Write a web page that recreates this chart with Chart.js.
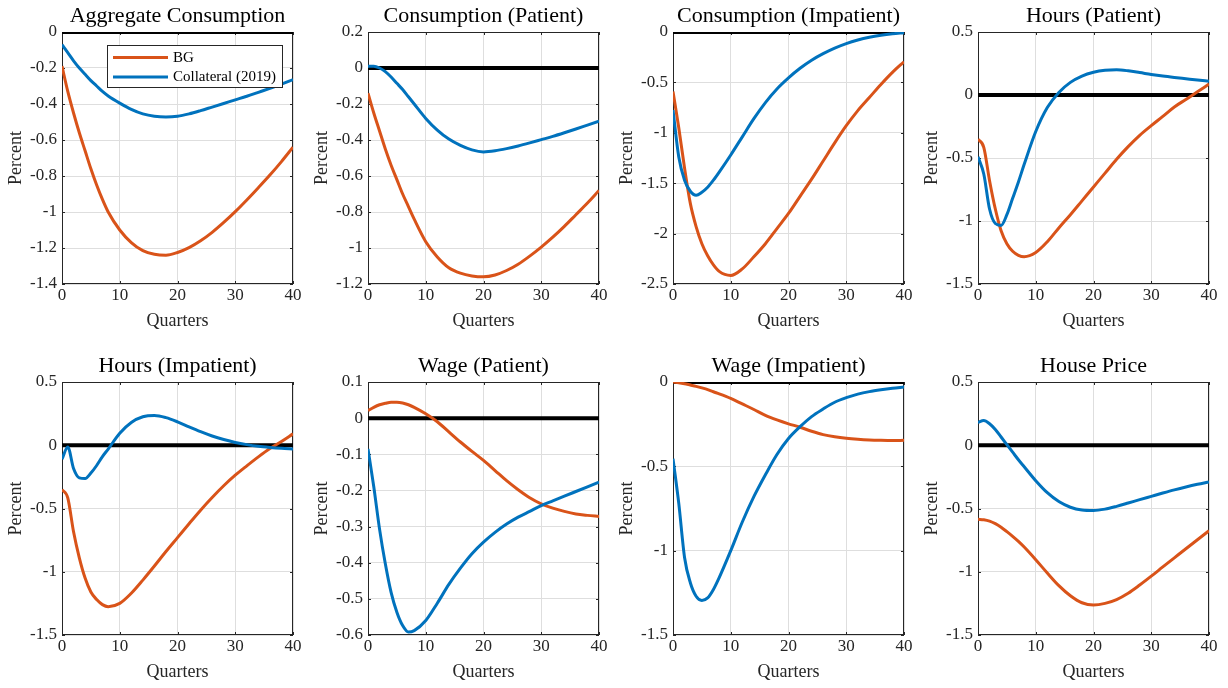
<!DOCTYPE html>
<html>
<head>
<meta charset="utf-8">
<title>Impulse responses</title>
<script src="https://cdn.jsdelivr.net/npm/chart.js@4.4.1/dist/chart.umd.min.js"></script>
<style>
  html, body { margin: 0; padding: 0; background: #ffffff; }
  body { position: relative; width: 1228px; height: 688px; overflow: hidden; }
  canvas { position: absolute; }
</style>
</head>
<body>
<script>
const QUARTERS = [0, 1, 2, 3, 4, 5, 6, 7, 8, 10, 12, 14, 16, 18, 20, 22, 24, 26, 28, 30, 32, 34, 36, 38, 40];

const TITLES = [
  "Aggregate Consumption", "Consumption (Patient)", "Consumption (Impatient)", "Hours (Patient)",
  "Hours (Impatient)", "Wage (Patient)", "Wage (Impatient)", "House Price",
];
const Y_MIN = [-1.4, -1.2, -2.5, -1.5, -1.5, -0.6, -1.5, -1.5];
const Y_MAX = [0, 0.2, 0, 0.5, 0.5, 0.1, 0, 0.5];
const Y_STEP = [0.2, 0.2, 0.5, 0.5, 0.5, 0.1, 0.5, 0.5];
const X_TICKS = [0, 10, 20, 30, 40];

const aggConsBG = [-0.19, -0.33, -0.45, -0.56, -0.66, -0.76, -0.85, -0.93, -1.0, -1.1, -1.17, -1.215, -1.235, -1.24, -1.225, -1.198, -1.16, -1.113, -1.058, -0.998, -0.933, -0.865, -0.795, -0.72, -0.64];
const aggConsColl = [-0.07, -0.115, -0.16, -0.2, -0.235, -0.27, -0.3, -0.33, -0.355, -0.395, -0.43, -0.455, -0.468, -0.472, -0.468, -0.455, -0.437, -0.417, -0.397, -0.377, -0.357, -0.335, -0.313, -0.29, -0.265];

const consPatBG = [-0.14, -0.25, -0.35, -0.45, -0.54, -0.62, -0.7, -0.77, -0.84, -0.965, -1.05, -1.11, -1.14, -1.155, -1.16, -1.15, -1.125, -1.09, -1.045, -0.995, -0.94, -0.88, -0.815, -0.75, -0.68];
const consPatColl = [0.01, 0.01, 0.0, -0.02, -0.05, -0.085, -0.12, -0.16, -0.2, -0.28, -0.345, -0.395, -0.43, -0.455, -0.466, -0.46, -0.448, -0.433, -0.416, -0.398, -0.38, -0.36, -0.339, -0.317, -0.295];

const consImpBG = [-0.59, -0.95, -1.35, -1.7, -1.93, -2.1, -2.22, -2.31, -2.375, -2.415, -2.35, -2.23, -2.1, -1.95, -1.8, -1.63, -1.46, -1.28, -1.1, -0.93, -0.78, -0.65, -0.52, -0.4, -0.295];
const consImpColl = [-0.775, -1.24, -1.47, -1.58, -1.62, -1.59, -1.54, -1.47, -1.39, -1.22, -1.04, -0.86, -0.7, -0.565, -0.455, -0.36, -0.28, -0.215, -0.16, -0.115, -0.08, -0.053, -0.033, -0.018, -0.007];

const hoursPatBG = [-0.35, -0.415, -0.68, -0.905, -1.077, -1.18, -1.24, -1.272, -1.283, -1.25, -1.165, -1.055, -0.95, -0.84, -0.73, -0.62, -0.51, -0.41, -0.32, -0.243, -0.17, -0.095, -0.035, 0.025, 0.087];
const hoursPatColl = [-0.49, -0.627, -0.905, -1.02, -1.035, -0.95, -0.82, -0.69, -0.55, -0.29, -0.1, 0.02, 0.1, 0.15, 0.18, 0.196, 0.2, 0.192, 0.178, 0.163, 0.15, 0.139, 0.129, 0.119, 0.11];

const hoursImpBG = [-0.35, -0.416, -0.684, -0.89, -1.05, -1.16, -1.22, -1.26, -1.276, -1.25, -1.17, -1.066, -0.955, -0.84, -0.73, -0.62, -0.513, -0.413, -0.32, -0.237, -0.163, -0.092, -0.026, 0.03, 0.09];
const hoursImpColl = [-0.11, -0.013, -0.184, -0.258, -0.263, -0.22, -0.16, -0.09, -0.03, 0.095, 0.18, 0.225, 0.235, 0.218, 0.185, 0.145, 0.107, 0.073, 0.045, 0.022, 0.005, -0.008, -0.017, -0.024, -0.029];

const wagePatBG = [0.021, 0.03, 0.037, 0.041, 0.044, 0.044, 0.042, 0.037, 0.03, 0.012, -0.01, -0.038, -0.066, -0.092, -0.117, -0.145, -0.173, -0.198, -0.22, -0.237, -0.249, -0.258, -0.265, -0.269, -0.272];
const wagePatColl = [-0.085, -0.19, -0.307, -0.403, -0.482, -0.537, -0.574, -0.592, -0.588, -0.56, -0.512, -0.46, -0.415, -0.375, -0.343, -0.316, -0.293, -0.274, -0.258, -0.242, -0.229, -0.216, -0.203, -0.19, -0.177];

const wageImpBG = [0.0, -0.004, -0.01, -0.018, -0.026, -0.035, -0.045, -0.058, -0.07, -0.097, -0.13, -0.163, -0.198, -0.225, -0.248, -0.268, -0.292, -0.312, -0.325, -0.334, -0.34, -0.344, -0.346, -0.347, -0.346];
const wageImpColl = [-0.455, -0.72, -1.04, -1.19, -1.27, -1.295, -1.28, -1.23, -1.16, -1.0, -0.83, -0.68, -0.55, -0.43, -0.335, -0.265, -0.205, -0.16, -0.12, -0.093, -0.072, -0.057, -0.046, -0.037, -0.03];

const housePriceBG = [-0.585, -0.589, -0.6, -0.62, -0.648, -0.683, -0.72, -0.76, -0.805, -0.905, -1.01, -1.11, -1.19, -1.245, -1.263, -1.25, -1.22, -1.17, -1.105, -1.035, -0.962, -0.89, -0.818, -0.747, -0.676];
const housePriceColl = [0.18, 0.195, 0.17, 0.125, 0.065, 0.005, -0.055, -0.115, -0.17, -0.28, -0.375, -0.445, -0.49, -0.512, -0.516, -0.505, -0.483, -0.457, -0.43, -0.404, -0.378, -0.353, -0.33, -0.309, -0.29];

const BG_SERIES = [aggConsBG, consPatBG, consImpBG, hoursPatBG, hoursImpBG, wagePatBG, wageImpBG, housePriceBG];
const COLL_SERIES = [aggConsColl, consPatColl, consImpColl, hoursPatColl, hoursImpColl, wagePatColl, wageImpColl, housePriceColl];

const ORANGE = "#D95319";
const BLUE = "#0072BD";
const TEXT = "#262626";
const GRID = "#dedede";
const SERIF = '"Liberation Serif", "Times New Roman", serif';

// plot boxes of the 2 x 4 grid
const PLOT_LEFT = [62, 368, 673, 978];
const PLOT_TOP = [32, 382];
const PLOT_W = 231;
const PLOT_H = [252, 253];
const CANVAS_TOP = [0, 345];

function points(values) {
  return QUARTERS.map((q, k) => ({ x: q, y: values[k] }));
}

function formatTick(value) {
  const v = Math.round(value * 100) / 100;
  return v === 0 ? "0" : String(v);
}

// MATLAB style box with inward ticks
const framePlugin = {
  id: "frame",
  beforeDatasetsDraw(chart) {
    const { ctx, chartArea: a, scales } = chart;
    ctx.save();
    ctx.strokeStyle = TEXT;
    ctx.lineWidth = 1;
    ctx.strokeRect(a.left + 0.5, a.top + 0.5, a.width - 1, a.height - 1);
    ctx.beginPath();
    scales.x.ticks.forEach((t) => {
      const px = Math.round(scales.x.getPixelForValue(t.value)) + 0.5;
      ctx.moveTo(px, a.bottom);
      ctx.lineTo(px, a.bottom - 3);
      ctx.moveTo(px, a.top);
      ctx.lineTo(px, a.top + 3);
    });
    scales.y.ticks.forEach((t) => {
      const py = Math.round(scales.y.getPixelForValue(t.value)) + 0.5;
      ctx.moveTo(a.left, py);
      ctx.lineTo(a.left + 3, py);
      ctx.moveTo(a.right, py);
      ctx.lineTo(a.right - 3, py);
    });
    ctx.stroke();
    ctx.restore();
  },
};

const legendPlugin = {
  id: "boxLegend",
  afterDraw(chart) {
    const { ctx, chartArea: a } = chart;
    const x0 = a.left + 45;
    const y0 = a.top + 13;
    ctx.save();
    ctx.fillStyle = "#ffffff";
    ctx.fillRect(x0, y0, 176, 43);
    ctx.strokeStyle = TEXT;
    ctx.lineWidth = 1;
    ctx.strokeRect(x0 + 0.5, y0 + 0.5, 175, 42);
    chart.data.datasets.slice(0, 2).forEach((ds, k) => {
      const y = y0 + 12.5 + k * 19.5;
      ctx.strokeStyle = ds.borderColor;
      ctx.lineWidth = 3;
      ctx.beginPath();
      ctx.moveTo(x0 + 6, y);
      ctx.lineTo(x0 + 61, y);
      ctx.stroke();
      ctx.fillStyle = "#000000";
      ctx.font = `15px ${SERIF}`;
      ctx.textBaseline = "middle";
      ctx.fillText(ds.label, x0 + 66, y + 0.5);
    });
    ctx.restore();
  },
};

function makePanel(i) {
  const col = i % 4;
  const row = Math.floor(i / 4);
  const left = PLOT_LEFT[col];
  const top = PLOT_TOP[row];
  const bottom = top + PLOT_H[row];
  const cx = left - 62;
  const cy = CANVAS_TOP[row];
  const cw = 62 + PLOT_W + 12;
  const ch = bottom + 48 - cy;
  const titleLineHeight = 22 * 1.2;

  const canvas = document.createElement("canvas");
  canvas.width = cw;
  canvas.height = ch;
  canvas.style.left = `${cx}px`;
  canvas.style.top = `${cy}px`;
  canvas.style.width = `${cw}px`;
  canvas.style.height = `${ch}px`;
  document.body.appendChild(canvas);

  const tickFont = { family: SERIF, size: 17 };
  const labelFont = { family: SERIF, size: 18 };

  new Chart(canvas, {
    type: "line",
    data: {
      datasets: [
        { label: "BG", data: points(BG_SERIES[i]), borderColor: ORANGE, borderWidth: 3, order: 2 },
        { label: "Collateral (2019)", data: points(COLL_SERIES[i]), borderColor: BLUE, borderWidth: 3, order: 1 },
        { label: "zero", data: [{ x: 0, y: 0 }, { x: 40, y: 0 }], borderColor: "#000000", borderWidth: 4, order: 3 },
      ],
    },
    options: {
      responsive: false,
      animation: false,
      devicePixelRatio: 1,
      layout: { padding: { top: 0, left: 0, right: 12, bottom: 0 } },
      elements: {
        point: { radius: 0 },
        line: { cubicInterpolationMode: "monotone", borderCapStyle: "butt", fill: false },
      },
      plugins: {
        legend: { display: false },
        tooltip: { enabled: false },
        title: {
          display: true,
          text: TITLES[i],
          fullSize: false,
          color: "#000000",
          font: { family: SERIF, size: 22, weight: "normal" },
          padding: { top: top - cy - titleLineHeight - 2.8, bottom: 2.8 },
        },
      },
      scales: {
        x: {
          type: "linear",
          min: 0,
          max: 40,
          afterBuildTicks: (scale) => {
            scale.ticks = X_TICKS.map((v) => ({ value: v }));
          },
          ticks: { color: TEXT, font: tickFont, padding: 1, maxRotation: 0 },
          grid: { color: GRID, drawTicks: false },
          border: { display: false },
          title: { display: true, text: "Quarters", color: TEXT, font: labelFont, padding: { top: 0, bottom: 0 } },
          afterFit: (scale) => {
            scale.height = 48;
          },
        },
        y: {
          min: Y_MIN[i],
          max: Y_MAX[i],
          ticks: { stepSize: Y_STEP[i], color: TEXT, font: tickFont, padding: 5, callback: formatTick },
          grid: { color: GRID, drawTicks: false },
          border: { display: false },
          title: { display: true, text: "Percent", color: TEXT, font: labelFont, padding: { top: 5.7, bottom: 0 } },
          afterFit: (scale) => {
            scale.width = 62;
          },
        },
      },
    },
    plugins: i === 0 ? [framePlugin, legendPlugin] : [framePlugin],
  });
}

TITLES.forEach((_, i) => makePanel(i));
</script>
</body>
</html>
